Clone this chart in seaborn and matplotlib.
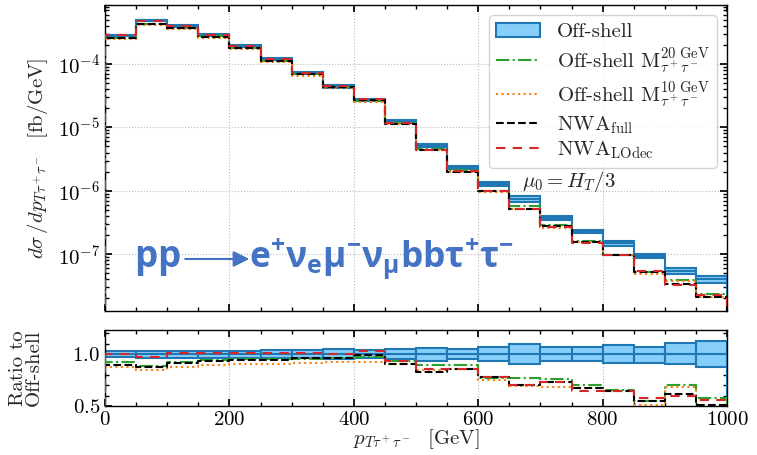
import numpy as np
import matplotlib
matplotlib.use("Agg")
import matplotlib.pyplot as plt
import seaborn as sns
from matplotlib.patches import Patch
from matplotlib.lines import Line2D
from matplotlib.ticker import MultipleLocator, LogLocator, NullFormatter

# ---------------- data ----------------
bin_edges = [0, 50, 100, 150, 200, 250, 300, 350, 400, 450, 500,
             550, 600, 650, 700, 750, 800, 850, 900, 950, 1000]
offshell = [2.81e-4, 4.86e-4, 4.0e-4, 2.89e-4, 1.90e-4, 1.19e-4, 7.2e-5,
            4.46e-5, 2.69e-5, 1.24e-5, 5.2e-6, 2.35e-6, 1.29e-6, 7.4e-7,
            3.75e-7, 2.3e-7, 1.5e-7, 9.5e-8, 5.5e-8, 4.1e-8]
scale_up = [1.03, 1.03, 1.03, 1.03, 1.03, 1.035, 1.035, 1.045, 1.035, 1.05,
            1.058, 1.045, 1.067, 1.10, 1.068, 1.064, 1.09, 1.065, 1.105, 1.12]
scale_down = [0.97, 0.965, 0.965, 0.962, 0.962, 0.96, 0.962, 0.952, 0.958, 0.95,
              0.936, 0.952, 0.933, 0.90, 0.932, 0.936, 0.91, 0.91, 0.90, 0.87]
ratio_m20 = [0.923, 0.888, 0.92, 0.946, 0.95, 0.952, 0.955, 0.965, 0.968, 0.936,
             0.89, 0.89, 0.772, 0.766, 0.756, 0.70, 0.654, 0.548, 0.70, 0.58]
ratio_m10 = [0.878, 0.85, 0.875, 0.894, 0.90, 0.907, 0.91, 0.92, 0.923, 0.90,
             0.843, 0.853, 0.75, 0.69, 0.686, 0.676, 0.647, 0.51, 0.68, 0.51]
ratio_nwa_full = [0.897, 0.875, 0.913, 0.93, 0.94, 0.946, 0.958, 0.958, 0.99, 0.90,
                  0.83, 0.853, 0.776, 0.70, 0.734, 0.67, 0.647, 0.548, 0.612, 0.51]
ratio_nwa_lodec = [1.0, 0.968, 1.006, 1.006, 1.013, 1.01, 1.01, 1.0, 1.03, 0.93,
                   0.86, 0.86, 0.776, 0.70, 0.727, 0.647, 0.644, 0.574, 0.60, 0.56]

labels = ["Off-shell",
          r"Off-shell M$_{\tau^+\tau^-}^{20\ \mathrm{GeV}}$",
          r"Off-shell M$_{\tau^+\tau^-}^{10\ \mathrm{GeV}}$",
          r"NWA$_{\mathrm{full}}$",
          r"NWA$_{\mathrm{LOdec}}$"]

# ---------------- style ----------------
sns.set_theme(style="ticks")
plt.rcParams.update({
    "font.family": ["cmr10", "DejaVu Serif"],
    "mathtext.fontset": "cm",
    "mathtext.rm": "Open Sans",
    "mathtext.it": "Open Sans:italic",
    "mathtext.bf": "Open Sans:bold",
    "axes.formatter.use_mathtext": True,
    "font.size": 15,
    "axes.labelsize": 15,
    "xtick.labelsize": 15,
    "ytick.labelsize": 15,
    "xtick.direction": "in",
    "ytick.direction": "in",
    "xtick.top": True,
    "ytick.right": True,
    "axes.edgecolor": "black",
    "axes.linewidth": 1.0,
    "xtick.color": "black",
    "ytick.color": "black",
    "xtick.major.size": 5,
    "ytick.major.size": 5,
    "xtick.minor.size": 3,
    "ytick.minor.size": 3,
})

BLUE_EDGE = "#1f77b4"
BLUE_FILL = "#87CEFA"
styles = [
    dict(color="#2ca02c", linestyle="-."),
    dict(color="#ff7f0e", linestyle=":"),
    dict(color="black", linestyle=(0, (3.7, 1.6))),
    dict(color="#d62728", linestyle=(0, (4.5, 3.5))),
]

edges = np.asarray(bin_edges, dtype=float)
centers = 0.5 * (edges[:-1] + edges[1:])
widths = np.diff(edges)
off = np.asarray(offshell)
up = np.asarray(scale_up)
dn = np.asarray(scale_down)
ratios = [np.asarray(r) for r in (ratio_m20, ratio_m10, ratio_nwa_full, ratio_nwa_lodec)]


def step_xy(vals, floor):
    x = np.concatenate([[edges[0]], edges])
    y = np.concatenate([[floor], vals, [floor]])
    return x, y


fig = plt.figure(figsize=(7.57, 4.55), dpi=100)
ax1 = fig.add_axes([0.1387, 0.3165, 0.8217, 0.6725])
ax2 = fig.add_axes([0.1387, 0.1077, 0.8217, 0.1670])

for ax in (ax1, ax2):
    ax.set_axisbelow(True)
    ax.grid(True, which="major", linestyle=":", color="#bbbbbb", linewidth=0.8)

# ---------------- top panel ----------------
ax1.set_yscale("log")
ax1.bar(centers, off * (up - dn), bottom=off * dn, width=widths,
        color=BLUE_FILL, edgecolor=BLUE_EDGE, linewidth=1.5, zorder=2)
x, y = step_xy(off, 1e-14)
sns.lineplot(x=x, y=y, ax=ax1, estimator=None, sort=False,
             drawstyle="steps-post", color=BLUE_EDGE, linewidth=1.5, zorder=3)
for r, st in zip(ratios, styles):
    x, y = step_xy(off * r, 1e-14)
    sns.lineplot(x=x, y=y, ax=ax1, estimator=None, sort=False,
                 drawstyle="steps-post", linewidth=1.5, zorder=4, **st)

ax1.set_xlim(0, 1000)
ax1.set_ylim(1.27e-8, 8.5e-4)
ax1.xaxis.set_major_locator(MultipleLocator(200))
ax1.xaxis.set_minor_locator(MultipleLocator(50))
ax1.yaxis.set_major_locator(LogLocator(base=10))
ax1.yaxis.set_minor_locator(LogLocator(base=10, subs=np.arange(2, 10)))
ax1.yaxis.set_minor_formatter(NullFormatter())
ax1.tick_params(axis="x", labelbottom=False)
ax1.set_xlabel("")
ax1.set_ylabel(r"$d\sigma\,/dp_{T\tau^+\tau^-}$  [fb/GeV]")
ax1.yaxis.set_label_coords(-0.088, 0.5)

ax1.text(671, 1.4e-6, r"$\mu_0 = H_T/3$", fontsize=15, va="center", zorder=6)

handles = [Patch(facecolor=BLUE_FILL, edgecolor=BLUE_EDGE, linewidth=1.5)]
handles += [Line2D([], [], linewidth=1.5, **st) for st in styles]
leg = ax1.legend(handles, labels, loc="upper right", fontsize=15,
                 frameon=True, fancybox=True, framealpha=0.85,
                 edgecolor="#cccccc", handlelength=2.1, labelspacing=0.18,
                 borderpad=0.35, handletextpad=0.8)
leg.set_zorder(5)

# process overlay text
proc_color = "#4472C4"
ax1.text(0.047, 0.144, r"$\mathbf{pp}$", transform=ax1.transAxes,
         fontsize=26.5, color=proc_color, va="baseline", ha="left",
         math_fontfamily="custom")
ax1.annotate("", xy=(0.232, 0.170), xytext=(0.129, 0.170),
             xycoords="axes fraction", textcoords="axes fraction",
             arrowprops=dict(arrowstyle="-|>", color=proc_color, lw=1.5,
                             mutation_scale=24, shrinkA=0, shrinkB=0))
ax1.text(0.2315, 0.144,
         r"$\mathbf{e^{+}\nu_{e}\mu^{-}\nu_{\mu}bb\tau^{+}\tau^{-}}$",
         transform=ax1.transAxes, fontsize=25.5, color=proc_color,
         va="baseline", ha="left", math_fontfamily="custom")

# ---------------- ratio panel ----------------
ax2.bar(centers, up - dn, bottom=dn, width=widths,
        color=BLUE_FILL, edgecolor=BLUE_EDGE, linewidth=1.5, zorder=2)
x, y = step_xy(np.ones_like(off), 0.0)
sns.lineplot(x=x, y=y, ax=ax2, estimator=None, sort=False,
             drawstyle="steps-post", color=BLUE_EDGE, linewidth=1.5, zorder=3)
for r, st in zip(ratios, styles):
    x, y = step_xy(r, 0.0)
    sns.lineplot(x=x, y=y, ax=ax2, estimator=None, sort=False,
                 drawstyle="steps-post", linewidth=1.5, zorder=4, **st)

ax2.set_xlim(0, 1000)
ax2.set_ylim(0.5, 1.23)
ax2.xaxis.set_major_locator(MultipleLocator(200))
ax2.xaxis.set_minor_locator(MultipleLocator(50))
ax2.yaxis.set_major_locator(MultipleLocator(0.5))
ax2.yaxis.set_minor_locator(MultipleLocator(0.1))
ax2.set_ylabel("Ratio to\nOff-shell", linespacing=0.85)
ax2.yaxis.set_label_coords(-0.1, 0.5)
ax2.set_xlabel(r"$p_{T\tau^+\tau^-}$  [GeV]", labelpad=-1)

fig.savefig("out.png", dpi=100)
